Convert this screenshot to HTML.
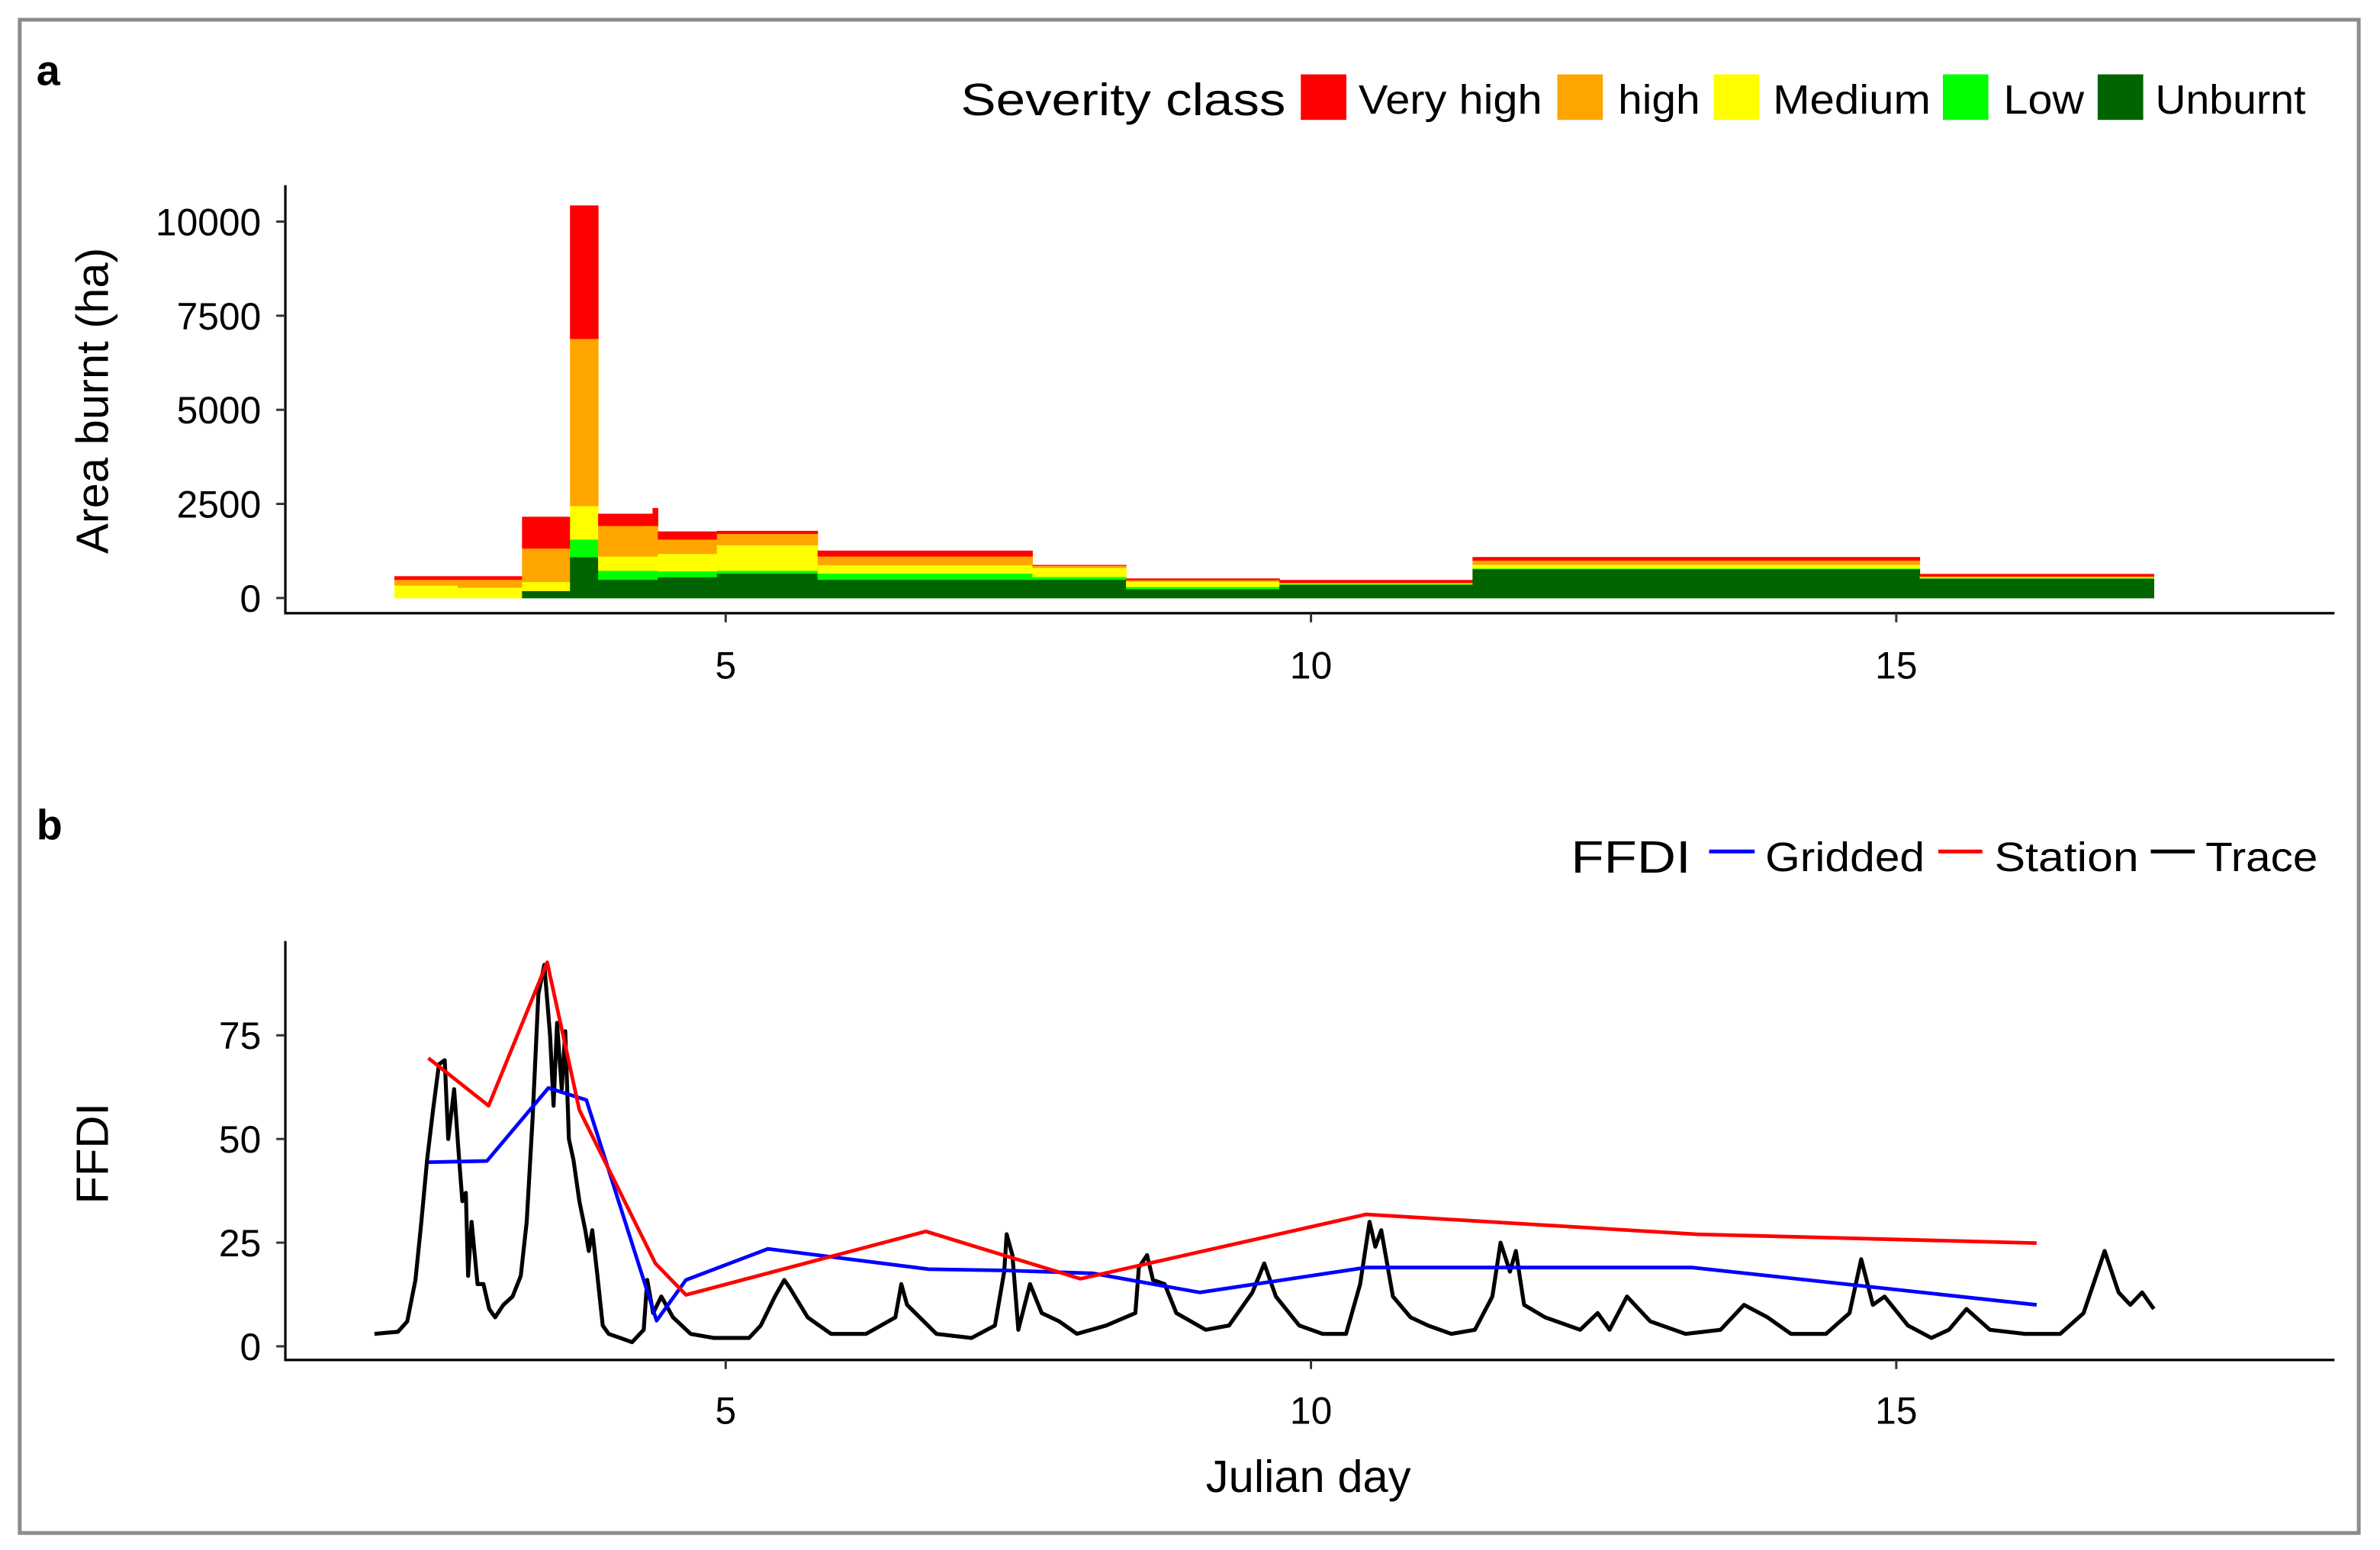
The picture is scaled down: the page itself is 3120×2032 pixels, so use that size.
<!DOCTYPE html>
<html><head><meta charset="utf-8"><style>
html,body{margin:0;padding:0;background:#fff}
svg{display:block}
text{font-family:"Liberation Sans",Arial,sans-serif;fill:#000}
</style></head><body>
<svg id="chart" width="3120" height="2032" viewBox="0 0 1568 1021.2" preserveAspectRatio="none" xmlns="http://www.w3.org/2000/svg">
<rect x="0" y="0" width="1568" height="1022" fill="#fff"/>
<rect x="13" y="13" width="1541" height="997" fill="none" stroke="#8c8c8c" stroke-width="2.5"/>
<text x="24" y="56" font-size="28" font-weight="bold">a</text>
<text x="24" y="553" font-size="28" font-weight="bold">b</text>
<g id="legendA">
<text x="633" y="76" font-size="30" textLength="214" lengthAdjust="spacingAndGlyphs">Severity class</text>
<rect x="857" y="49" width="30" height="30" fill="#ff0000"/>
<text x="895" y="75" font-size="27" textLength="121" lengthAdjust="spacingAndGlyphs">Very high</text>
<rect x="1026" y="49" width="30" height="30" fill="#ffa500"/>
<text x="1066" y="75" font-size="27" textLength="54" lengthAdjust="spacingAndGlyphs">high</text>
<rect x="1129" y="49" width="30" height="30" fill="#ffff00"/>
<text x="1168" y="75" font-size="27" textLength="104" lengthAdjust="spacingAndGlyphs">Medium</text>
<rect x="1280" y="49" width="30" height="30" fill="#00ff00"/>
<text x="1320" y="75" font-size="27" textLength="53" lengthAdjust="spacingAndGlyphs">Low</text>
<rect x="1382" y="49" width="30" height="30" fill="#006400"/>
<text x="1420" y="75" font-size="27" textLength="99" lengthAdjust="spacingAndGlyphs">Unburnt</text>
</g>
<g>
<text x="1035" y="575" font-size="30" textLength="79" lengthAdjust="spacingAndGlyphs">FFDI</text>
<line x1="1126" y1="561" x2="1156" y2="561" stroke="#0000ff" stroke-width="2.5"/>
<text x="1163" y="574" font-size="27" textLength="105" lengthAdjust="spacingAndGlyphs">Gridded</text>
<line x1="1277" y1="561" x2="1306" y2="561" stroke="#ff0000" stroke-width="2.5"/>
<text x="1314" y="574" font-size="27" textLength="95" lengthAdjust="spacingAndGlyphs">Station</text>
<line x1="1417" y1="561" x2="1446" y2="561" stroke="#000" stroke-width="2.5"/>
<text x="1453" y="574" font-size="27" textLength="74" lengthAdjust="spacingAndGlyphs">Trace</text>
</g>
<g id="plotA"></g>
<g id="plotB"></g>
</svg>
<script>
// ---- panel a data ----
const binStart = [2.17, 2.71, 3.26, 3.67, 3.91, 4.375, 4.42, 4.925, 5.785, 7.62, 8.42, 9.73, 11.38, 15.2];
const binEnd   = [2.71, 3.26, 3.67, 3.91, 4.375, 4.42, 4.925, 5.785, 7.62, 8.42, 9.73, 11.38, 15.2, 17.2];
const unburnt  = [0, 0, 190, 1090, 490, 490, 560, 655, 490, 490, 240, 360, 770, 520];
const low      = [0, 0, 0, 470, 240, 240, 155, 75, 165, 75, 60, 10, 20, 10];
const medium   = [340, 280, 240, 890, 380, 380, 465, 680, 225, 240, 140, 20, 100, 20];
const high     = [150, 210, 890, 4440, 810, 810, 380, 300, 230, 60, 40, 20, 110, 30];
const veryHigh = [90, 90, 840, 3540, 320, 470, 210, 75, 150, 15, 40, 70, 90, 60];
const yTicksA = [0, 2500, 5000, 7500, 10000];
const xTicks = [5, 10, 15];
// ---- panel b data ----
const stationDay = [2.46, 2.975, 3.475, 3.75, 4.4, 4.66, 6.71, 8.03, 10.47, 13.3, 16.2];
const stationVal = [69.5, 58, 92.6, 57, 20, 12.4, 27.7, 16.3, 31.8, 27, 24.9];
const griddedDay = [2.46, 2.96, 3.485, 3.81, 4.41, 4.66, 5.36, 6.735, 7.385, 8.135, 9.05, 10.47, 13.26, 16.2];
const griddedVal = [44.4, 44.7, 62.3, 59.4, 6.2, 16, 23.5, 18.6, 18.3, 17.6, 13, 19, 19, 10];
const traceDay = [2.0,2.2,2.28,2.35,2.4,2.45,2.5,2.55,2.6,2.63,2.68,2.72,2.75,2.78,2.8,2.83,2.88,2.93,2.98,3.03,3.1,3.18,3.25,3.3,3.35,3.4,3.45,3.5,3.53,3.56,3.6,3.63,3.66,3.7,3.75,3.8,3.83,3.86,3.9,3.95,4.0,4.1,4.2,4.3,4.33,4.38,4.45,4.55,4.7,4.9,5.2,5.3,5.42,5.5,5.55,5.7,5.9,6.2,6.45,6.5,6.55,6.8,7.1,7.3,7.38,7.4,7.45,7.5,7.6,7.7,7.85,8.0,8.25,8.5,8.53,8.6,8.65,8.75,8.85,9.1,9.3,9.5,9.6,9.7,9.9,10.1,10.3,10.42,10.5,10.55,10.6,10.7,10.85,11.0,11.2,11.4,11.55,11.62,11.7,11.75,11.82,12.0,12.3,12.45,12.55,12.7,12.9,13.2,13.5,13.7,13.9,14.1,14.4,14.6,14.7,14.8,14.9,15.1,15.3,15.45,15.6,15.8,16.1,16.4,16.6,16.78,16.9,17.0,17.1,17.2];
const traceVal = [3,3.5,6,16,30,45,57,68,69,50,62,46,35,37,17,30,15,15,9,7,10,12,17,30,55,85,92,75,58,78,62,76,50,45,35,28,23,28,18,5,3,2,1,4,16,8,12,7,3,2,2,5,12,16,14,7,3,3,7,15,10,3,2,5,18,27,22,4,15,8,6,3,5,8,19,22,16,15,8,4,5,13,20,12,5,3,3,15,30,24,28,12,7,5,3,4,12,25,18,23,10,7,4,8,4,12,6,3,4,10,7,3,3,8,21,10,12,5,2,4,9,4,3,3,8,23,13,10,13,9];
const yTicksB = [0, 25, 50, 75];

const NS = 'http://www.w3.org/2000/svg';
function el(tag, attrs, parent, txt) {
  const e = document.createElementNS(NS, tag);
  for (const k in attrs) e.setAttribute(k, attrs[k]);
  if (txt !== undefined) e.textContent = txt;
  parent.appendChild(e);
  return e;
}
const xs = d => 92.5 + d * 77.12;
const yA = v => 394 - v * 62 / 2500;
const yB = v => 887 - v * 68.3 / 25;

const gA = document.getElementById('plotA');
const layers = [unburnt, low, medium, high, veryHigh];
const colors = ['#006400', '#00ff00', '#ffff00', '#ffa500', '#ff0000'];
const lnames = ['unburnt', 'low', 'medium', 'high', 'very-high'];
for (let i = 0; i < binStart.length; i++) {
  let base = 0;
  for (let l = 0; l < layers.length; l++) {
    const v = layers[l][i];
    if (v <= 0) continue;
    const r = el('rect', {x: xs(binStart[i]), y: yA(base + v), width: xs(binEnd[i]) - xs(binStart[i]) + 0.3, height: yA(base) - yA(base + v) + 0.2, fill: colors[l]}, gA);
    
    
    base += v;
  }
}
function axes(g, top, bottom, ticksY, yf, prefix, ylabel, ylabelY, xlabY) {
  const ax = el('path', {d: `M188 ${top} V${bottom} H1538`, fill: 'none', stroke: '#000', 'stroke-width': 1.6}, g);
  
  
  ticksY.forEach(t => {
    const tk = el('line', {x1: 182, x2: 188, y1: yf(t), y2: yf(t), stroke: '#333', 'stroke-width': 1.5}, g);
    
    
    const tl = el('text', {x: 172, y: yf(t) + 9, 'font-size': 25, 'text-anchor': 'end', fill: '#333'}, g, String(t));
    
    
  });
  xTicks.forEach(t => {
    const tk = el('line', {x1: xs(t), x2: xs(t), y1: bottom, y2: bottom + 6, stroke: '#333', 'stroke-width': 1.5}, g);
    
    
    const tl = el('text', {x: xs(t), y: xlabY, 'font-size': 25, 'text-anchor': 'middle', fill: '#333'}, g, String(t));
    
    
  });
  const yl = el('text', {x: 0, y: 0, 'font-size': 30, 'text-anchor': 'middle', transform: `translate(71 ${ylabelY}) rotate(-90)`}, g, ylabel);
  
  
}
axes(gA, 122, 404, yTicksA, yA, 'panel-a', 'Area burnt (ha)', 264, 447);

const gB = document.getElementById('plotB');
axes(gB, 620, 896, yTicksB, yB, 'panel-b', 'FFDI', 760, 938);
const xl = el('text', {x: 862, y: 983, 'font-size': 30, 'text-anchor': 'middle'}, gB, 'Julian day');


function line(days, vals, color, w, name) {
  const pts = days.map((d, i) => xs(d).toFixed(1) + ',' + yB(vals[i]).toFixed(1)).join(' ');
  const p = el('polyline', {points: pts, fill: 'none', stroke: color, 'stroke-width': w, 'stroke-linejoin': 'round'}, gB);
  
  
}
line(traceDay, traceVal, '#000', 2.6, 'trace-line');
line(griddedDay, griddedVal, '#0000ff', 2.4, 'gridded-line');
line(stationDay, stationVal, '#ff0000', 2.4, 'station-line');
</script>
</body></html>
